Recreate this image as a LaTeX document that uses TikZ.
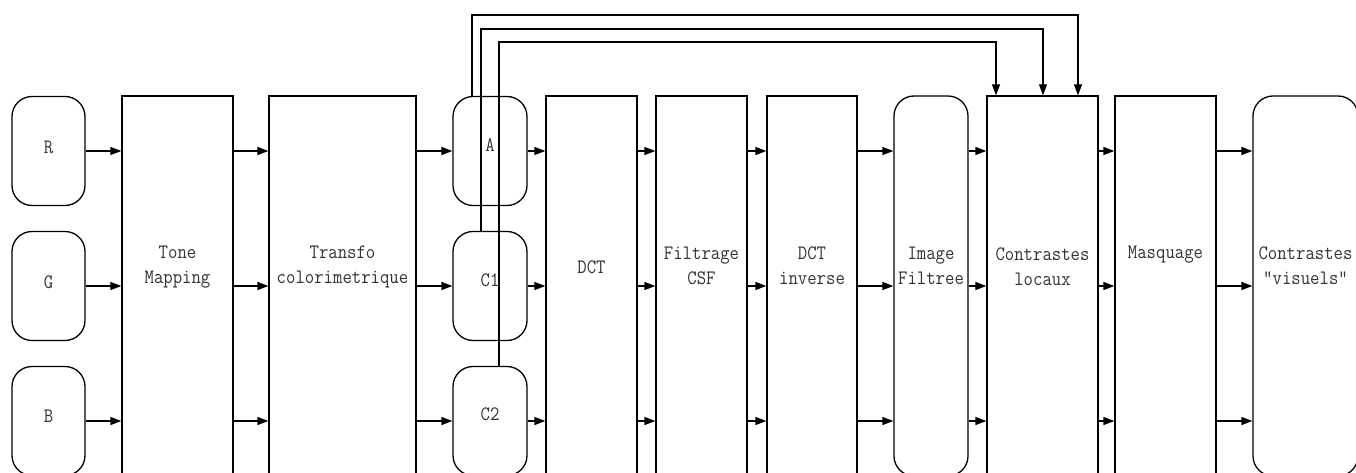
\documentclass[tikz,border=0pt]{standalone}
\usepackage{fontspec}
\setmonofont[FakeStretch=0.89]{Latin Modern Mono}
\usetikzlibrary{arrows.meta}
\begin{document}
\begin{tikzpicture}[x=1pt,y=-1pt,
  ln/.style={line width=1.3pt},
  smallbox/.style={draw, ln, rounded corners=20pt, minimum width=73pt, minimum height=109pt, inner sep=0pt},
  tallbox/.style={draw, ln, minimum width=#1, minimum height=380pt, inner sep=0pt},
  tallround/.style={tallbox=#1, rounded corners=20pt},
  lbl/.style={font=\fontsize{20.5}{25}\selectfont\ttfamily, align=center, text=black!80, inner sep=0pt},
  arr/.style={ln, -{Triangle[length=11pt,width=8pt]}}
]
\useasboundingbox (0,0) rectangle (1356,473);
\clip (0,0) rectangle (1356,473);

% rows
\coordinate (row1) at (0,151);
\coordinate (row2) at (0,286);
\coordinate (row3) at (0,421);
\coordinate (top1) at (0,15);
\coordinate (top2) at (0,29);
\coordinate (top3) at (0,42);

% input boxes
\node[smallbox] (R) at (48.5,151) {};
\node[smallbox] (G) at (48.5,286) {};
\node[smallbox] (B) at (48.5,421) {};
\node[lbl, yshift=4pt] (tR) at (R) {R};
\node[lbl, yshift=4pt] (tG) at (G) {G};
\node[lbl, yshift=5pt] (tB) at (B) {B};

% tall boxes
\node[tallbox=111pt] (tm) at (177.5,286) {};
\node[tallbox=147pt] (tr) at (342.5,286) {};
\node[smallbox, minimum width=74pt] (A) at (490,151) {};
\node[smallbox, minimum width=74pt] (C1) at (490,286) {};
\node[smallbox, minimum width=74pt] (C2) at (490,421) {};
\node[tallbox=91pt] (dct) at (591.5,286) {};
\node[tallbox=91pt] (csf) at (701.5,286) {};
\node[tallbox=90pt] (idct) at (812,286) {};
\node[tallround=74pt] (if) at (931,286) {};
\node[tallbox=111pt] (cl) at (1042.5,286) {};
\node[tallbox=101pt] (mq) at (1165.5,286) {};
\node[tallround=105pt] (cv) at (1305.5,286) {};

% labels
\node[lbl, yshift=19pt] (ttm) at (tm) {Tone\\Mapping};
\node[lbl, yshift=19pt] (ttr) at (tr) {Transfo\\colorimetrique};
\node[lbl, yshift=5.5pt] (tA) at (A) {A};
\node[lbl, yshift=6pt] (tC1) at (C1) {C1};
\node[lbl, yshift=6.5pt] (tC2) at (C2) {C2};
\node[lbl, yshift=19pt] (tdct) at (dct) {DCT};
\node[lbl, yshift=20pt] (tcsf) at (csf) {Filtrage\\CSF};
\node[lbl, yshift=20pt] (tidct) at (idct) {DCT\\inverse};
\node[lbl, yshift=20pt] (tif) at (if) {Image\\Filtree};
\node[lbl, yshift=19pt] (tcl) at (cl) {Contrastes\\locaux};
\node[lbl, yshift=31pt] (tmq) at (mq) {Masquage};
\node[lbl, yshift=20.5pt] (tcv) at (cv) {Contrastes\\"visuels"};

% arrows
\foreach \s in {R,G,B} \draw[arr] (\s.east) -- (tm.west |- \s.east);
\foreach \s in {A,C1,C2} {
  \draw[arr] (tr.east |- \s.west) -- (\s.west);
  \draw[arr] (\s.east) -- (dct.west |- \s.east);
}
\foreach \a/\b in {tm/tr, dct/csf, csf/idct, idct/if, if/cl, cl/mq, mq/cv}
  \foreach \r in {row1,row2,row3}
    \draw[arr] (\a.east |- \r) -- (\b.west |- \r);

% feedback lines to local contrasts
\coordinate (s1) at ([xshift=-18pt]A.north);
\coordinate (s2) at ([xshift=-9pt]C1.north);
\coordinate (s3) at ([xshift=9pt]C2.north);
\coordinate (e1) at ([xshift=35.5pt]cl.north);
\coordinate (e2) at ([xshift=0.5pt]cl.north);
\coordinate (e3) at ([xshift=-46.5pt]cl.north);
\draw[arr] (s1) -- (s1 |- top1) -| (e1);
\draw[arr] (s2) -- (s2 |- top2) -| (e2);
\draw[arr] (s3) -- (s3 |- top3) -| (e3);
\end{tikzpicture}
\end{document}
